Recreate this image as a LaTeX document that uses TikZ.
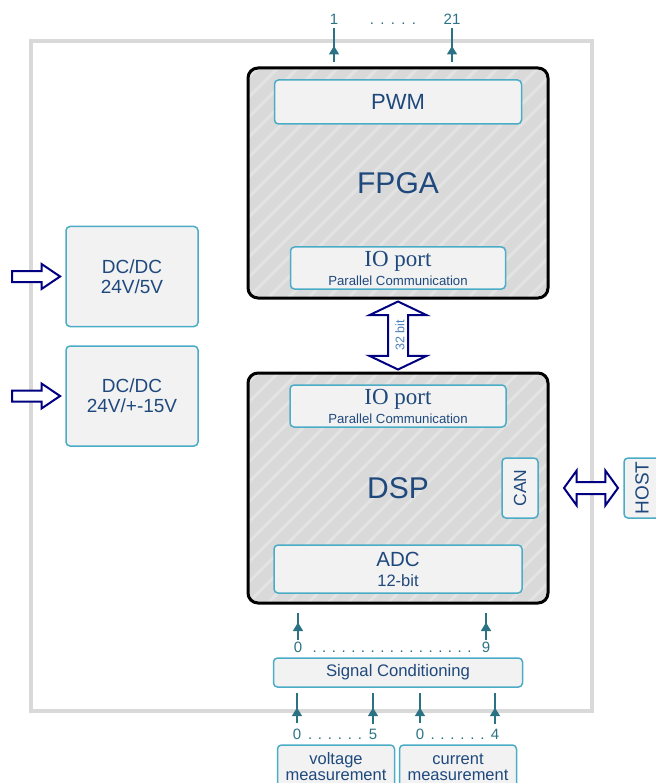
\documentclass[tikz,border=0pt]{standalone}
\usepackage{fontspec}
\setmainfont{Liberation Sans}
\newfontfamily\iofont{Liberation Serif}
\usetikzlibrary{positioning, calc, shapes.arrows, arrows.meta, decorations.markings}

\definecolor{chipgray}{HTML}{D9D9D9}
\definecolor{hatchgray}{HTML}{E3E3E3}
\definecolor{framegray}{HTML}{D9D9D9}
\definecolor{boxteal}{HTML}{4BACC6}
\definecolor{boxfill}{HTML}{F2F2F2}
\definecolor{textblue}{HTML}{1F497D}
\definecolor{sigteal}{HTML}{2B7384}
\definecolor{buslabel}{HTML}{4F81BD}
\definecolor{busnavy}{HTML}{000080}

\newcommand\sigdots[2]{.\foreach \k in {2,...,#1}{\hspace{#2}.}}

\tikzset{
  chip/.style={draw=black, line width=3pt, rounded corners=10pt, fill=chipgray,
    minimum width=300pt, minimum height=230pt, text=textblue,
    font=\fontsize{30}{34}\selectfont,
    path picture={\foreach \d in {-260,-240,...,320}
      \draw[hatchgray, line width=3pt] ([xshift=\d pt]path picture bounding box.south west) -- ++(260,-260);}},
  unit/.style={draw=boxteal, line width=1.5pt, fill=boxfill, rounded corners=4pt,
    text=textblue, inner sep=0pt, align=center},
  ioport/.style={minimum height=42pt, font=\fontsize{13.2}{15}\selectfont},
  dcbox/.style={minimum width=132pt, minimum height=100pt, font=\fontsize{19}{20}\selectfont},
  meas/.style={minimum width=117pt, minimum height=44pt, font=\fontsize{16.5}{16}\selectfont},
  fatarrow/.style={draw=busnavy, fill=white, line width=2pt, inner xsep=0pt, minimum width=0pt},
  sig/.style={sigteal, line width=1.5pt, postaction={decorate},
    decoration={markings, mark=at position 0.5 with {\arrow{Triangle[length=8.5pt, width=10pt]}}}},
  lbl/.style={text=sigteal, font=\fontsize{15}{17}\selectfont, inner sep=1pt}
}

\begin{document}
\begin{tikzpicture}[x=1pt, y=-1pt, on grid, node distance=1cm]
  \useasboundingbox (0,0) rectangle (655,783);
  \draw[framegray, line width=4pt] (31,41) rectangle (592,711);

  % processors
  \node[chip] (fpga) at (398,183) {FPGA};
  \node[chip] (dsp) [below=305pt of fpga] {DSP};

  \node[unit, minimum width=247pt, minimum height=44pt, font=\fontsize{22}{24}\selectfont] (pwm) [above=81pt of fpga] {PWM};
  \node[unit, ioport, minimum width=215pt] (fpgaio) [below=85pt of fpga] {{\iofont\fontsize{23}{24}\selectfont IO port}\\[4pt]Parallel Communication};
  \node[unit, ioport, minimum width=216pt] (dspio) [above=82pt of dsp] {{\iofont\fontsize{23}{24}\selectfont IO port}\\[4pt]Parallel Communication};
  \node[unit, minimum width=248pt, minimum height=48pt, font=\fontsize{16.5}{18}\selectfont] (adc) [below=81pt of dsp] {{\fontsize{20.5}{22}\selectfont ADC}\\[2pt]12-bit};
  \node[unit, rotate=90, minimum width=60pt, minimum height=36pt, font=\fontsize{17.5}{20}\selectfont] (can) [right=122pt of dsp] {CAN};
  \node[unit, rotate=90, minimum width=60pt, minimum height=36pt, font=\fontsize{19}{20}\selectfont] (host) [right=244pt of dsp] {HOST};
  \node[unit, minimum width=249pt, minimum height=29pt, font=\fontsize{16.7}{19}\selectfont] (sigcond) [below=184.5pt of dsp] {Signal Conditioning};

  % power supplies
  \node[unit, dcbox] (dcfive) at (132,276.5) {DC/DC\\24V/5V};
  \node[unit, dcbox] (dcfifteen) [below=119.5pt of dcfive] {DC/DC\\24V/+-15V};

  % measurements
  \node[unit, meas] (volt) at (336,767) {voltage\\measurement};
  \node[unit, meas] (curr) [right=122pt of volt] {current\\measurement};

  % buses
  \node[fatarrow, double arrow, rotate=90, minimum height=68pt, inner ysep=9pt,
    double arrow head extend=18.5pt, double arrow tip angle=129] (bus) at ($(fpga.south)!0.5!(dsp.north)$) {};
  \node[rotate=90, text=buslabel, font=\fontsize{12.5}{14}\selectfont] at ([xshift=2pt]bus.center) {32 bit};
  \node[fatarrow, double arrow, minimum height=54pt, inner ysep=5pt,
    double arrow head extend=11.5pt, double arrow tip angle=108] (hostbus) [right=193pt of dsp] {};
  \node[fatarrow, single arrow, minimum height=48pt, inner ysep=4.5pt,
    single arrow head extend=7pt, single arrow tip angle=68] (infive) [left=100pt of dcfive] {};
  \node[fatarrow, single arrow, minimum height=48pt, inner ysep=4.5pt,
    single arrow head extend=7pt, single arrow tip angle=68] (infifteen) [left=100pt of dcfifteen] {};

  % pwm outputs
  \node[lbl] (out1) at (334,19) {1};
  \node[lbl] (out21) at (452,19) {21};
  \node[lbl, anchor=base] at ($(out1.base)!0.5!(out21.base)$) {\sigdots{5}{6.3pt}};
  \draw[sig, shorten <=4.5pt, shorten >=3pt] (out1 |- fpga.north) -- (out1);
  \draw[sig, shorten <=4.5pt, shorten >=3pt] (out21 |- fpga.north) -- (out21);

  % adc inputs
  \node[lbl] (adc0) at (298,647) {0};
  \node[lbl] (adc9) at (486,647) {9};
  \node[lbl, anchor=base] at ($(adc0.base)!0.5!(adc9.base)$) {\sigdots{17}{5.5pt}};
  \draw[sig, shorten >=8.5pt] (adc0) -- (adc0 |- dsp.south);
  \draw[sig, shorten >=8.5pt] (adc9) -- (adc9 |- dsp.south);

  % conditioning inputs
  \node[lbl] (volt0) at (297,734) {0};
  \node[lbl] (volt5) at (373,734) {5};
  \node[lbl] (curr0) at (420,734) {0};
  \node[lbl] (curr4) at (495,734) {4};
  \node[lbl, anchor=base] at ($(volt0.base)!0.5!(volt5.base)$) {\sigdots{6}{5.8pt}};
  \node[lbl, anchor=base] at ($(curr0.base)!0.5!(curr4.base)$) {\sigdots{6}{5.8pt}};
  \draw[sig, shorten <=4pt, shorten >=5pt] (volt0) -- (volt0 |- sigcond.south);
  \draw[sig, shorten <=4pt, shorten >=5pt] (volt5) -- (volt5 |- sigcond.south);
  \draw[sig, shorten <=4pt, shorten >=5pt] (curr0) -- (curr0 |- sigcond.south);
  \draw[sig, shorten <=4pt, shorten >=5pt] (curr4) -- (curr4 |- sigcond.south);
\end{tikzpicture}
\end{document}
